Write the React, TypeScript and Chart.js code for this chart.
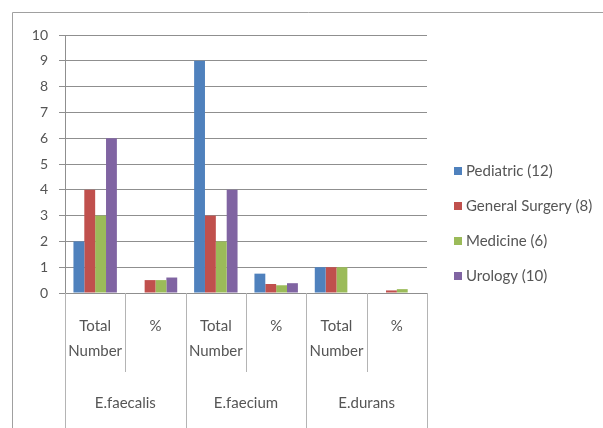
import React, { useEffect, useRef } from "react";
import { Chart, registerables } from "chart.js";

Chart.register(...registerables);

// ---- data ----
const subCategories: (string | string[])[] = [
  ["Total", "Number"],
  "%",
  ["Total", "Number"],
  "%",
  ["Total", "Number"],
  "%",
];
const groups = ["E.faecalis", "E.faecium", "E.durans"];
const seriesNames = ["Pediatric (12)", "General Surgery (8)", "Medicine (6)", "Urology (10)"];
const pediatric = [2, 0, 9, 0.75, 1, 0];
const generalSurgery = [4, 0.5, 3, 0.35, 1, 0.1];
const medicine = [3, 0.5, 2, 0.3, 1, 0.15];
const urology = [6, 0.6, 4, 0.38, 0, 0];
const seriesColors = ["#4F81BD", "#C0504D", "#9BBB59", "#8064A2"];
const yMin = 0;
const yMax = 10;
const yStep = 1;

const FONT = "Lato, 'Open Sans', sans-serif";
const TEXT = "#555555";
const GRID = "#8f8f8f";
const SEP = "#b4b4b4";

const decorPlugin = {
  id: "decor",
  beforeDraw(chart: any) {
    const { ctx, width, height } = chart;
    ctx.save();
    ctx.fillStyle = "#ffffff";
    ctx.fillRect(0, 0, width, height);
    ctx.strokeStyle = "#a0a0a0";
    ctx.lineWidth = 1;
    ctx.beginPath();
    ctx.moveTo(12.5, height + 5);
    ctx.lineTo(12.5, 12.5);
    ctx.lineTo(width + 5, 12.5);
    ctx.stroke();
    ctx.restore();
  },
  afterDraw(chart: any) {
    const { ctx, chartArea, height } = chart;
    const xs = chart.scales.x;
    const n = subCategories.length;
    const bounds: number[] = [];
    for (let i = 0; i <= n; i++) {
      if (i === 0) bounds.push(chartArea.left);
      else if (i === n) bounds.push(chartArea.right);
      else bounds.push((xs.getPixelForValue(i - 1) + xs.getPixelForValue(i)) / 2);
    }
    ctx.save();
    ctx.strokeStyle = SEP;
    ctx.lineWidth = 1;
    for (let i = 0; i <= n; i++) {
      const px = Math.round(bounds[i]) + 0.5;
      const yEnd = i % 2 === 0 ? height : chartArea.bottom + 79;
      ctx.beginPath();
      ctx.moveTo(px, chartArea.bottom);
      ctx.lineTo(px, yEnd);
      ctx.stroke();
    }
    ctx.fillStyle = TEXT;
    ctx.font = `15px ${FONT}`;
    ctx.textAlign = "center";
    ctx.textBaseline = "middle";
    groups.forEach((g, gi) => {
      const cx = (bounds[gi * 2] + bounds[gi * 2 + 2]) / 2;
      ctx.fillText(g, cx, chartArea.bottom + 110);
    });
    // legend
    const legendX = 454;
    const legendTop = 171;
    const rowGap = 35;
    ctx.textAlign = "left";
    chart.data.datasets.forEach((ds: any, i: number) => {
      const cy = legendTop + i * rowGap;
      ctx.fillStyle = ds.backgroundColor;
      ctx.fillRect(legendX, cy - 4, 8, 8);
      ctx.fillStyle = TEXT;
      ctx.fillText(ds.label, legendX + 12, cy);
    });
    ctx.restore();
  },
};

export default function App() {
  const ref = useRef<HTMLCanvasElement | null>(null);
  useEffect(() => {
    document.body.style.margin = "0";
    const canvas = ref.current!;
    const values = [pediatric, generalSurgery, medicine, urology];
    const chart = new Chart(canvas, {
      type: "bar",
      data: {
        labels: subCategories as any,
        datasets: seriesNames.map((name, i) => ({
          label: name,
          data: values[i],
          backgroundColor: seriesColors[i],
          borderWidth: 0,
          categoryPercentage: 0.72,
          barPercentage: 1,
        })),
      },
      options: {
        responsive: false,
        animation: false,
        devicePixelRatio: 1,
        layout: { padding: { left: 0, top: 35, right: 176, bottom: 0 } },
        plugins: {
          legend: { display: false },
          tooltip: { enabled: false },
        },
        scales: {
          x: {
            grid: { display: false },
            border: { display: false },
            ticks: {
              color: TEXT,
              font: { family: FONT, size: 15, lineHeight: 1.65 },
              padding: 13,
              maxRotation: 0,
              autoSkip: false,
            },
            afterFit: (s: any) => {
              s.height = 135;
            },
          },
          y: {
            min: yMin,
            max: yMax,
            grid: { color: GRID, tickLength: 6, drawTicks: true },
            border: { display: true, color: GRID },
            ticks: {
              stepSize: yStep,
              color: TEXT,
              font: { family: FONT, size: 14 },
              padding: 11,
            },
            afterFit: (s: any) => {
              s.width = 65;
            },
          },
        },
      },
      plugins: [decorPlugin],
    });
    return () => chart.destroy();
  }, []);
  return (
    <canvas
      ref={ref}
      width={603}
      height={428}
      style={{ display: "block", width: 603, height: 428 }}
    />
  );
}
